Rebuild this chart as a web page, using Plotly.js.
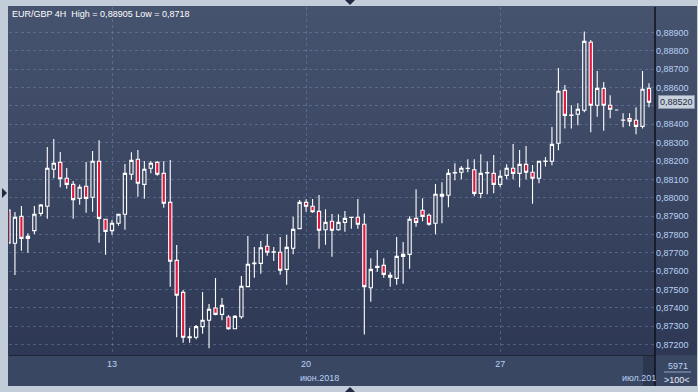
<!DOCTYPE html>
<html><head><meta charset="utf-8">
<script src="https://cdn.plot.ly/plotly-3.0.1.min.js"></script>
<style>
html,body{margin:0;padding:0;background:#c3ccd9;width:698px;height:392px;overflow:hidden;}
#panel{position:absolute;left:8px;top:6px;width:689px;height:380px;background:linear-gradient(#46536f,#2c3652);}
#xband{position:absolute;left:8px;top:355px;width:689px;height:31px;background:#3a4763;}
#chart{position:absolute;left:0;top:0;width:698px;height:392px;}
.tri{position:absolute;width:0;height:0;}
#tTop{left:345px;top:0;border-left:5px solid transparent;border-right:5px solid transparent;border-top:5px solid #1f2a40;}
#tBot{left:345px;top:387px;border-left:5px solid transparent;border-right:5px solid transparent;border-bottom:5px solid #1f2a40;}
#tLeft{left:2px;top:188px;border-top:5px solid transparent;border-bottom:5px solid transparent;border-left:5px solid #1f2a40;}
</style></head>
<body>
<div id="panel"></div><div id="xband"></div>
<div class="tri" id="tTop"></div><div class="tri" id="tBot"></div><div class="tri" id="tLeft"></div>
<div id="chart"></div>
<script>
// EUR/GBP 4H candles
const open = [0.87933,0.87752,0.87899,0.87779,0.87821,0.87915,0.87954,0.88155,0.88193,0.88106,
0.88073,0.87997,0.88063,0.88003,0.88199,0.87883,0.87821,0.87861,0.87910,0.88128,
0.88210,0.88073,0.88161,0.88193,0.88133,0.87975,0.87659,0.87485,0.87238,0.87240,
0.87298,0.87333,0.87400,0.87365,0.87351,0.87287,0.87352,0.87516,0.87641,0.87643,
0.87736,0.87703,0.87703,0.87610,0.87725,0.87832,0.87975,0.87954,0.87926,0.87826,
0.87872,0.87826,0.87866,0.87893,0.87894,0.87856,0.87510,0.87621,0.87632,0.87578,
0.87561,0.87681,0.87692,0.87888,0.87932,0.87905,0.87861,0.88019,0.88014,0.88135,
0.88139,0.88160,0.88153,0.88024,0.88135,0.88133,0.88073,0.88122,0.88161,0.88133,
0.88182,0.88139,0.88106,0.88198,0.88199,0.88297,0.88585,0.88448,0.88455,0.88477,
0.88847,0.88504,0.88596,0.88504,0.88478,0.88423,0.88431,0.88422,0.88389,0.88596];
const high = [0.87950,0.87923,0.87955,0.87807,0.87955,0.87966,0.88277,0.88320,0.88249,0.88162,
0.88091,0.88073,0.88195,0.88255,0.88313,0.87885,0.87879,0.87912,0.88184,0.88248,
0.88260,0.88200,0.88200,0.88200,0.88200,0.88206,0.87743,0.87498,0.87292,0.87307,
0.87487,0.87421,0.87563,0.87454,0.87361,0.87361,0.87574,0.87792,0.87732,0.87765,
0.87803,0.87732,0.87786,0.87797,0.87897,0.87988,0.87992,0.87993,0.88015,0.87937,
0.87912,0.87910,0.87928,0.87895,0.87993,0.87915,0.87670,0.87716,0.87670,0.87594,
0.87786,0.87759,0.87899,0.88046,0.87997,0.87915,0.88075,0.88084,0.88157,0.88188,
0.88173,0.88210,0.88210,0.88237,0.88199,0.88233,0.88150,0.88182,0.88293,0.88260,
0.88282,0.88179,0.88199,0.88222,0.88386,0.88707,0.88614,0.88504,0.88515,0.88905,
0.88859,0.88691,0.88631,0.88558,0.88478,0.88460,0.88460,0.88493,0.88691,0.88624];
const low = [0.87737,0.87579,0.87712,0.87701,0.87803,0.87901,0.87886,0.88106,0.88057,0.88049,
0.87886,0.87962,0.87919,0.87924,0.87755,0.87690,0.87799,0.87848,0.87826,0.88098,
0.88006,0.87995,0.88133,0.88120,0.87946,0.87516,0.87240,0.87211,0.87211,0.87229,
0.87260,0.87180,0.87360,0.87333,0.87281,0.87285,0.87341,0.87516,0.87565,0.87586,
0.87684,0.87656,0.87581,0.87527,0.87692,0.87828,0.87924,0.87919,0.87723,0.87744,
0.87679,0.87821,0.87815,0.87832,0.87832,0.87256,0.87434,0.87597,0.87565,0.87516,
0.87527,0.87532,0.87614,0.87842,0.87872,0.87848,0.87801,0.87861,0.87948,0.88095,
0.88101,0.88139,0.88008,0.87997,0.88019,0.88024,0.88057,0.88101,0.88101,0.88057,
0.88101,0.87968,0.88079,0.88171,0.88177,0.88259,0.88378,0.88378,0.88395,0.88466,
0.88357,0.88442,0.88365,0.88433,0.88478,0.88384,0.88389,0.88346,0.88378,0.88493];
const close = [0.87752,0.87894,0.87779,0.87790,0.87910,0.87961,0.88161,0.88188,0.88104,0.88073,
0.87990,0.88057,0.87997,0.88199,0.87888,0.87817,0.87861,0.87910,0.88133,0.88204,
0.88079,0.88155,0.88188,0.88128,0.87970,0.87654,0.87469,0.87240,0.87243,0.87298,
0.87333,0.87393,0.87365,0.87414,0.87287,0.87354,0.87518,0.87638,0.87645,0.87728,
0.87703,0.87706,0.87605,0.87730,0.87828,0.87975,0.87954,0.87924,0.87823,0.87866,
0.87823,0.87866,0.87888,0.87894,0.87856,0.87516,0.87610,0.87627,0.87583,0.87567,
0.87681,0.87692,0.87883,0.87866,0.87899,0.87856,0.88019,0.88008,0.88133,0.88137,
0.88161,0.88161,0.88024,0.88133,0.88137,0.88073,0.88117,0.88161,0.88133,0.88182,
0.88139,0.88106,0.88199,0.88200,0.88291,0.88580,0.88449,0.88450,0.88482,0.88852,
0.88504,0.88596,0.88504,0.88482,0.88478,0.88424,0.88417,0.88389,0.88591,0.88520];

const yTickVals = [0.872,0.873,0.874,0.875,0.876,0.877,0.878,0.879,0.880,0.881,0.882,0.883,0.884,0.885,0.886,0.887,0.888,0.889];
// 0,88500 is hidden behind the last-price box in the reference
const yTickText = ['0,87200','0,87300','0,87400','0,87500','0,87600','0,87700','0,87800','0,87900','0,88000','0,88100','0,88200','0,88300','0,88400','','0,88600','0,88700','0,88800','0,88900'];
const xTickVals = ['2018-06-13 00:00','2018-06-20 00:00','2018-06-27 00:00'];
const xTickText = ['13','20','27'];
const titleText = 'EUR/GBP 4H\u00a0\u00a0High = 0,88905 Low = 0,8718';
const lastPriceText = '0,88520';

// 4-hour bar timestamps, Monday to Friday, starting Fri 8 June 2018 08:00
function pad(n){return (n<10?'0':'')+n;}
const times = [];
let d = new Date(Date.UTC(2018,5,8,8));
while (times.length < open.length) {
  const wd = d.getUTCDay();
  if (wd !== 0 && wd !== 6) {
    times.push(d.getUTCFullYear()+'-'+pad(d.getUTCMonth()+1)+'-'+pad(d.getUTCDate())+' '+pad(d.getUTCHours())+':00');
  }
  d = new Date(d.getTime() + 4*3600e3);
}

const F = 'Liberation Sans, Arial, sans-serif';
const lblColor = '#b9d2f3';
const gridColor = 'rgba(135,155,195,0.38)';

const trace = {
  type:'candlestick', x:times, open:open, high:high, low:low, close:close,
  increasing:{line:{color:'#ffffff', width:1.1}, fillcolor:'rgba(0,0,0,0)'},
  decreasing:{line:{color:'#ffffff', width:1.1}, fillcolor:'#e3173e'},
  whiskerwidth:0, hoverinfo:'skip', showlegend:false
};

const bandY0 = -31/348;
const layout = {
  width:698, height:392,
  margin:{l:9, r:43, t:7, b:37},
  paper_bgcolor:'rgba(0,0,0,0)', plot_bgcolor:'rgba(0,0,0,0)',
  separators:', ',
  boxgap:0.28,
  title:{text:titleText, x:12/698, xanchor:'left', xref:'container', y:1-14/392, yanchor:'middle', yref:'container',
         font:{family:F, size:9, color:'#ffffff'}},
  xaxis:{type:'category', range:[0.08, 99.93], rangeslider:{visible:false},
         tickmode:'array', tickvals:xTickVals, ticktext:xTickText,
         showgrid:true, gridcolor:gridColor, griddash:'3px,3px', gridwidth:1,
         ticks:'', showline:true, linecolor:'#1d2436', linewidth:1,
         tickfont:{family:F, size:9, color:lblColor}, fixedrange:true},
  yaxis:{side:'right', range:[0.871437, 0.890391],
         tickmode:'array', tickvals:yTickVals, ticktext:yTickText,
         showgrid:true, gridcolor:gridColor, griddash:'3px,3px', gridwidth:1,
         ticks:'', showline:false, zeroline:false,
         tickfont:{family:F, size:9, color:lblColor}, fixedrange:true},
  shapes:[
    {type:'line', xref:'paper', yref:'paper', x0:1, x1:1, y0:bandY0, y1:1.0, line:{color:'#0e121c', width:1.5}},
    {type:'rect', xref:'paper', yref:'paper', x0:(643-9)/646, x1:1, y0:bandY0, y1:0, fillcolor:'rgba(40,50,74,0.8)', line:{width:0}, layer:'below'},
    {type:'line', xref:'paper', yref:'paper', x0:(664-9)/646, x1:(691-9)/646, y0:(355-372)/348, y1:(355-372)/348, line:{color:'#8fa6c8', width:1}}
  ],
  annotations:[
    {xref:'paper', yref:'y', x:1, y:close[close.length-1], xanchor:'left', yanchor:'middle', xshift:3,
     text:lastPriceText, showarrow:false, bgcolor:'#c8d0dc', bordercolor:'#8c97aa', borderwidth:1, borderpad:1,
     font:{family:F, size:9, color:'#1d2a45'}},
    {xref:'x', yref:'paper', x:48, y:(355-378)/348, xanchor:'center', yanchor:'middle', text:'июн.2018', showarrow:false,
     font:{family:F, size:9, color:lblColor}},
    {xref:'x', yref:'paper', x:94.5, y:(355-378)/348, xanchor:'left', yanchor:'middle', text:'июл.201', showarrow:false,
     font:{family:F, size:9, color:lblColor}},
    {xref:'paper', yref:'paper', x:(678-9)/646, y:(355-366)/348, xanchor:'center', yanchor:'middle', text:'5971', showarrow:false,
     font:{family:F, size:9, color:lblColor}},
    {xref:'paper', yref:'paper', x:(677-9)/646, y:(355-380)/348, xanchor:'center', yanchor:'middle', text:'>100<', showarrow:false,
     font:{family:F, size:9, color:'#e6eefa'}}
  ]
};

Plotly.newPlot('chart', [trace], layout, {staticPlot:true, displayModeBar:false});
</script>
</body></html>
